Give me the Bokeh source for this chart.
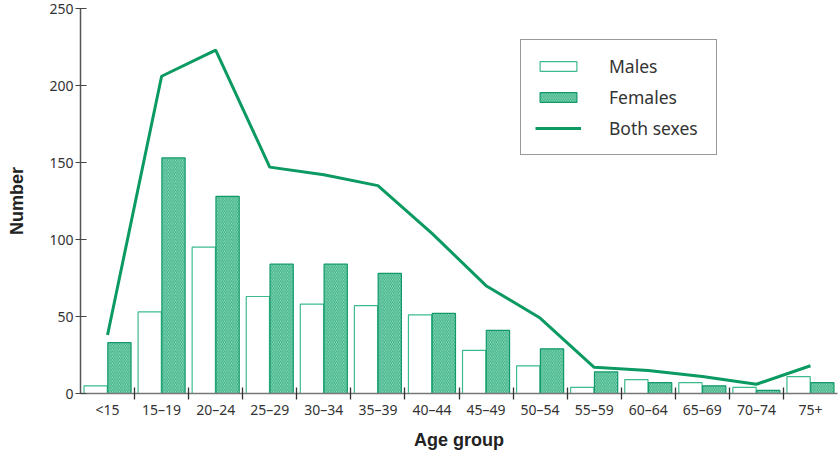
from bokeh.plotting import figure
from bokeh.models import ColumnDataSource, Range1d, FixedTicker, Legend, LegendItem
from bokeh.embed import file_html
from bokeh.resources import INLINE

age_groups = ["<15", "15–19", "20–24", "25–29", "30–34", "35–39", "40–44",
              "45–49", "50–54", "55–59", "60–64", "65–69", "70–74", "75+"]
males = [5, 53, 95, 63, 58, 57, 51, 28, 18, 4, 9, 7, 4, 11]
females = [33, 153, 128, 84, 84, 78, 52, 41, 29, 14, 7, 5, 2, 7]
both_sexes = [38, 206, 223, 147, 142, 135, 104, 70, 49, 17, 15, 11, 6, 18]
y_ticks = [0, 50, 100, 150, 200, 250]

idx = list(range(len(age_groups)))
src = ColumnDataSource(dict(
    x=idx,
    xm=[i - 0.22 for i in idx],
    xf=[i + 0.22 for i in idx],
    males=males, females=females, both=both_sexes,
))

p = figure(width=840, height=453, output_backend="svg", toolbar_location=None,
           x_range=Range1d(-0.5, len(age_groups) - 0.5), y_range=Range1d(0, 250),
           min_border_left=80, min_border_right=3, min_border_top=8, min_border_bottom=60)
p.outline_line_color = None
p.grid.grid_line_color = None
p.background_fill_color = "white"

rm = p.vbar(x="xm", top="males", width=0.43, bottom=0, source=src,
            fill_color="white", line_color="#3dba8c", line_width=1.2)
rf = p.vbar(x="xf", top="females", width=0.43, bottom=0, source=src,
            fill_color="#a3e4c8", line_color="#12996a", line_width=1.2,
            hatch_pattern="\\", hatch_color="#34ad82", hatch_weight=1.0, hatch_scale=3.5)
rl = p.line(x="x", y="both", source=src, line_color="#0a9a62", line_width=3)

# x axis
xa = p.xaxis[0]
xa.ticker = FixedTicker(ticks=idx, minor_ticks=[i + 0.5 for i in idx[:-1]])
xa.major_label_overrides = {i: lab for i, lab in enumerate(age_groups)}
xa.major_tick_line_color = None
xa.major_tick_in = 0
xa.major_tick_out = 0
xa.minor_tick_line_color = "#333333"
xa.minor_tick_in = 6
xa.minor_tick_out = 6
xa.minor_tick_line_width = 1.3
xa.axis_line_color = "#777777"
xa.axis_line_width = 1.5
xa.major_label_text_font = "Noto Sans"
xa.major_label_text_font_size = "14px"
xa.major_label_text_color = "#333333"
xa.major_label_standoff = 0
xa.axis_label = "Age group"
xa.axis_label_text_font = "Liberation Sans"
xa.axis_label_text_font_style = "bold"
xa.axis_label_text_font_size = "18px"
xa.axis_label_text_color = "#222222"
xa.axis_label_standoff = 8

# y axis
ya = p.yaxis[0]
ya.ticker = FixedTicker(ticks=y_ticks)
ya.minor_tick_line_color = None
ya.major_tick_in = 6
ya.major_tick_out = 5
ya.major_tick_line_color = "#444444"
ya.major_tick_line_width = 1.2
ya.axis_line_color = "#555555"
ya.axis_line_width = 1.5
ya.major_label_text_font = "Noto Sans"
ya.major_label_text_font_size = "14px"
ya.major_label_text_color = "#333333"
ya.major_label_standoff = 2
ya.axis_label = "Number"
ya.axis_label_text_font = "Liberation Sans"
ya.axis_label_text_font_style = "bold"
ya.axis_label_text_font_size = "18px"
ya.axis_label_text_color = "#222222"
ya.axis_label_standoff = 19

legend = Legend(items=[
    LegendItem(label="Males", renderers=[rm]),
    LegendItem(label="Females", renderers=[rf]),
    LegendItem(label="Both sexes", renderers=[rl]),
], location=(440, 238))
legend.border_line_color = "#333333"
legend.border_line_width = 1.2
legend.background_fill_alpha = 1
legend.label_text_font = "Noto Sans"
legend.label_text_font_size = "17.5px"
legend.label_text_color = "#333333"
legend.glyph_width = 46
legend.glyph_height = 12
legend.label_standoff = 28
legend.label_width = 93
legend.spacing = 7
legend.padding = 14
legend.margin = 0
legend.label_height = 20
p.add_layout(legend, "center")

open("out.html", "w").write(file_html(p, INLINE))
